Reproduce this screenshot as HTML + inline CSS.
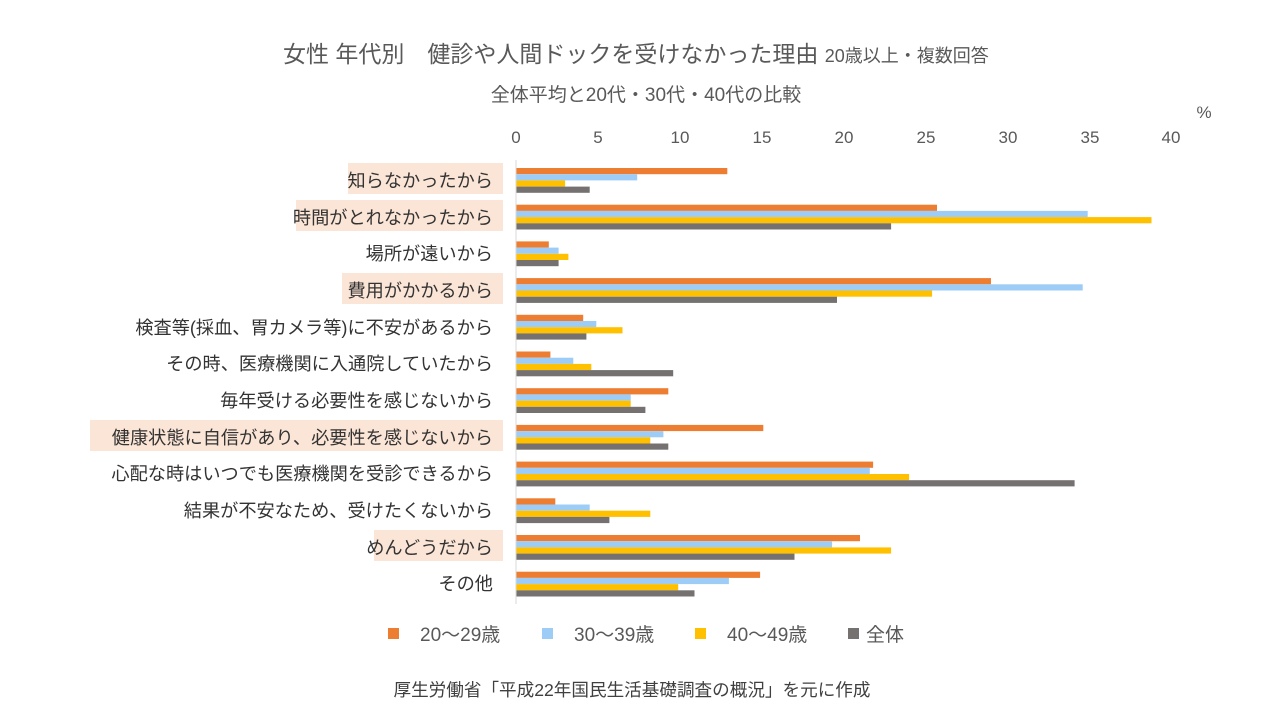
<!DOCTYPE html>
<html><head><meta charset="utf-8"><style>
body{margin:0;background:#fff;}
svg text{font-family:"Liberation Sans","Noto Sans CJK JP",sans-serif;}
</style></head><body>
<svg width="1280" height="720" viewBox="0 0 1280 720" xmlns="http://www.w3.org/2000/svg">
<rect width="1280" height="720" fill="#fff"/>
<text x="283" y="62" font-size="23" fill="#595959">女性 年代別　健診や人間ドックを受けなかった理由 <tspan font-size="18">20歳以上・複数回答</tspan></text>
<text x="646" y="101" font-size="19" fill="#595959" text-anchor="middle">全体平均と20代・30代・40代の比較</text>
<text x="1204" y="118" font-size="17" fill="#595959" text-anchor="middle">%</text>
<g font-size="17" fill="#595959" text-anchor="middle">
<text x="516" y="143">0</text><text x="598" y="143">5</text><text x="680" y="143">10</text><text x="762" y="143">15</text><text x="844" y="143">20</text><text x="926" y="143">25</text><text x="1008" y="143">30</text><text x="1090" y="143">35</text><text x="1171" y="143">40</text>
</g>
<g fill="#fbe5d6">
<rect x="348" y="163" width="155" height="31"/>
<rect x="296" y="200" width="207" height="31"/>
<rect x="342" y="273" width="161" height="31"/>
<rect x="90" y="420" width="413" height="31"/>
<rect x="374" y="530" width="129" height="31"/>
</g>
<g font-size="18.2" fill="#333" text-anchor="end">
<text x="493" y="187">知らなかったから</text>
<text x="493" y="224">時間がとれなかったから</text>
<text x="493" y="260">場所が遠いから</text>
<text x="493" y="297">費用がかかるから</text>
<text x="493" y="334">検査等(採血、胃カメラ等)に不安があるから</text>
<text x="493" y="370">その時、医療機関に入通院していたから</text>
<text x="493" y="407">毎年受ける必要性を感じないから</text>
<text x="493" y="444">健康状態に自信があり、必要性を感じないから</text>
<text x="493" y="480">心配な時はいつでも医療機関を受診できるから</text>
<text x="493" y="517">結果が不安なため、受けたくないから</text>
<text x="493" y="554">めんどうだから</text>
<text x="493" y="590">その他</text>
</g>
<g>
<rect x="516" y="168" width="211.3" height="6.2" fill="#ED7D31"/><rect x="516" y="174.2" width="121.2" height="6.2" fill="#9DCDF7"/><rect x="516" y="180.4" width="49.1" height="6.2" fill="#FFC000"/><rect x="516" y="186.6" width="73.7" height="6.2" fill="#767171"/>
<rect x="516" y="204.7" width="421" height="6.2" fill="#ED7D31"/><rect x="516" y="210.9" width="571.7" height="6.2" fill="#9DCDF7"/><rect x="516" y="217.1" width="635.5" height="6.2" fill="#FFC000"/><rect x="516" y="223.3" width="375.1" height="6.2" fill="#767171"/>
<rect x="516" y="241.4" width="32.8" height="6.2" fill="#ED7D31"/><rect x="516" y="247.6" width="42.6" height="6.2" fill="#9DCDF7"/><rect x="516" y="253.8" width="52.4" height="6.2" fill="#FFC000"/><rect x="516" y="260" width="42.6" height="6.2" fill="#767171"/>
<rect x="516" y="278.1" width="475" height="6.2" fill="#ED7D31"/><rect x="516" y="284.3" width="566.7" height="6.2" fill="#9DCDF7"/><rect x="516" y="290.5" width="416.1" height="6.2" fill="#FFC000"/><rect x="516" y="296.7" width="321" height="6.2" fill="#767171"/>
<rect x="516" y="314.8" width="67.2" height="6.2" fill="#ED7D31"/><rect x="516" y="321" width="80.3" height="6.2" fill="#9DCDF7"/><rect x="516" y="327.2" width="106.5" height="6.2" fill="#FFC000"/><rect x="516" y="333.4" width="70.4" height="6.2" fill="#767171"/>
<rect x="516" y="351.5" width="34.4" height="6.2" fill="#ED7D31"/><rect x="516" y="357.7" width="57.3" height="6.2" fill="#9DCDF7"/><rect x="516" y="363.9" width="75.3" height="6.2" fill="#FFC000"/><rect x="516" y="370.1" width="157.2" height="6.2" fill="#767171"/>
<rect x="516" y="388.2" width="152.3" height="6.2" fill="#ED7D31"/><rect x="516" y="394.4" width="114.7" height="6.2" fill="#9DCDF7"/><rect x="516" y="400.6" width="114.7" height="6.2" fill="#FFC000"/><rect x="516" y="406.8" width="129.4" height="6.2" fill="#767171"/>
<rect x="516" y="424.9" width="247.3" height="6.2" fill="#ED7D31"/><rect x="516" y="431.1" width="147.4" height="6.2" fill="#9DCDF7"/><rect x="516" y="437.3" width="134.3" height="6.2" fill="#FFC000"/><rect x="516" y="443.5" width="152.3" height="6.2" fill="#767171"/>
<rect x="516" y="461.6" width="357.1" height="6.2" fill="#ED7D31"/><rect x="516" y="467.8" width="353.8" height="6.2" fill="#9DCDF7"/><rect x="516" y="474" width="393.1" height="6.2" fill="#FFC000"/><rect x="516" y="480.2" width="558.6" height="6.2" fill="#767171"/>
<rect x="516" y="498.3" width="39.3" height="6.2" fill="#ED7D31"/><rect x="516" y="504.5" width="73.7" height="6.2" fill="#9DCDF7"/><rect x="516" y="510.7" width="134.3" height="6.2" fill="#FFC000"/><rect x="516" y="516.9" width="93.4" height="6.2" fill="#767171"/>
<rect x="516" y="535" width="344" height="6.2" fill="#ED7D31"/><rect x="516" y="541.2" width="316.1" height="6.2" fill="#9DCDF7"/><rect x="516" y="547.4" width="375.1" height="6.2" fill="#FFC000"/><rect x="516" y="553.6" width="278.5" height="6.2" fill="#767171"/>
<rect x="516" y="571.7" width="244.1" height="6.2" fill="#ED7D31"/><rect x="516" y="577.9" width="212.9" height="6.2" fill="#9DCDF7"/><rect x="516" y="584.1" width="162.2" height="6.2" fill="#FFC000"/><rect x="516" y="590.3" width="178.5" height="6.2" fill="#767171"/>
</g>
<line x1="516" y1="160" x2="516" y2="604" stroke="#d9d9d9" stroke-width="1"/>
<g font-size="19" fill="#595959">
<rect x="388" y="628" width="11" height="11" fill="#ED7D31"/><text x="420" y="641">20～29歳</text>
<rect x="542" y="628" width="11" height="11" fill="#9DCDF7"/><text x="574" y="641">30～39歳</text>
<rect x="695" y="628" width="11" height="11" fill="#FFC000"/><text x="727" y="641">40～49歳</text>
<rect x="848" y="628" width="11" height="11" fill="#767171"/><text x="866" y="641">全体</text>
</g>
<text x="632" y="696" font-size="17.6" fill="#404040" text-anchor="middle">厚生労働省「平成22年国民生活基礎調査の概況」を元に作成</text>
</svg>
</body></html>
